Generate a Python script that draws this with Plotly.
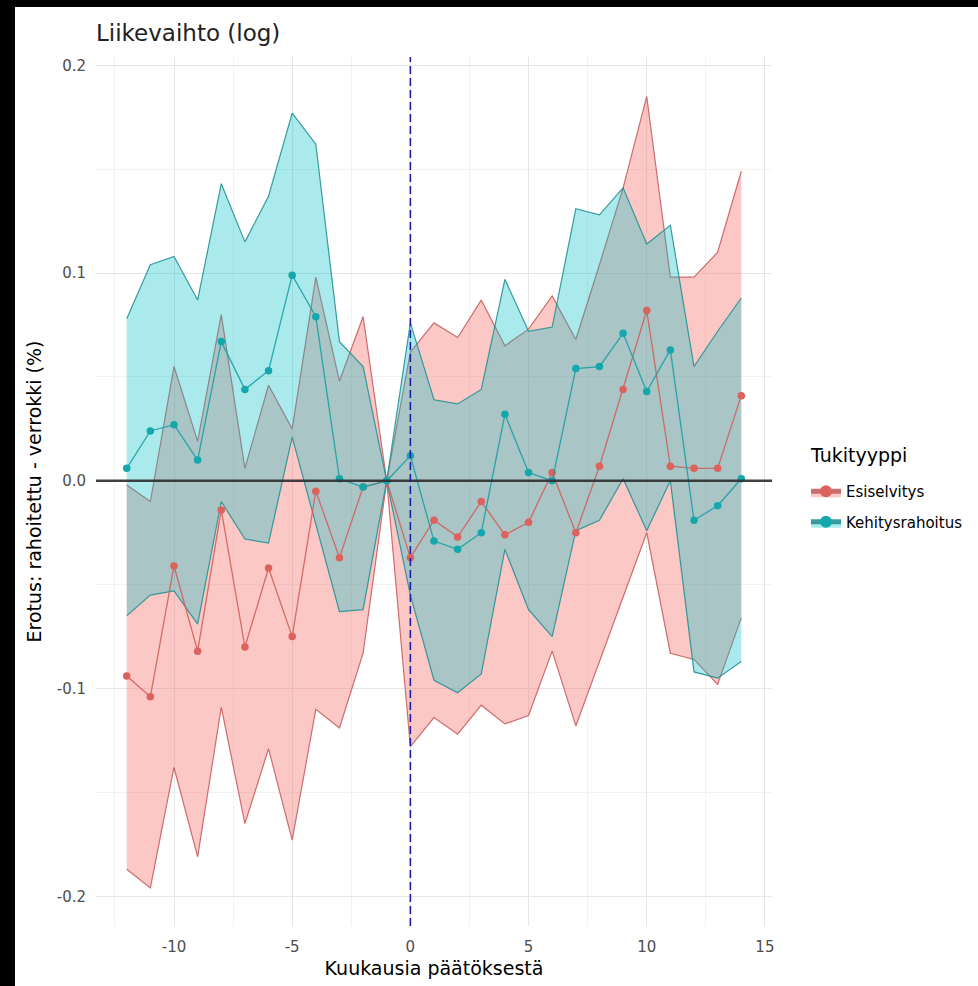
import plotly.graph_objects as go

# ---------------- data ----------------
months = list(range(-12, 15))

esi_est = [-0.094, -0.104, -0.041, -0.082, -0.014, -0.080, -0.042, -0.075, -0.005, -0.037, -0.003, 0.0,
           -0.037, -0.019, -0.027, -0.010, -0.026, -0.020, 0.004, -0.025, 0.007, 0.044, 0.082, 0.007,
           0.006, 0.006, 0.041]
esi_hi = [-0.002, -0.010, 0.055, 0.019, 0.080, 0.006, 0.046, 0.025, 0.098, 0.048, 0.079, 0.0,
          0.062, 0.076, 0.069, 0.087, 0.065, 0.073, 0.089, 0.068, 0.104, 0.141, 0.185, 0.098,
          0.098, 0.110, 0.149]
esi_lo = [-0.187, -0.196, -0.138, -0.181, -0.109, -0.165, -0.129, -0.173, -0.110, -0.119, -0.083, 0.0,
          -0.128, -0.114, -0.122, -0.108, -0.117, -0.113, -0.082, -0.118, -0.087, -0.056, -0.025, -0.083,
          -0.086, -0.098, -0.066]

keh_est = [0.006, 0.024, 0.027, 0.010, 0.067, 0.044, 0.053, 0.099, 0.079, 0.001, -0.003, 0.0,
           0.012, -0.029, -0.033, -0.025, 0.032, 0.004, 0.000, 0.054, 0.055, 0.071, 0.043, 0.063,
           -0.019, -0.012, 0.001]
keh_hi = [0.078, 0.104, 0.108, 0.087, 0.143, 0.115, 0.137, 0.177, 0.162, 0.067, 0.055, 0.0,
          0.076, 0.039, 0.037, 0.044, 0.097, 0.072, 0.074, 0.131, 0.128, 0.141, 0.114, 0.123,
          0.055, 0.072, 0.088]
keh_lo = [-0.065, -0.055, -0.053, -0.069, -0.010, -0.028, -0.030, 0.021, -0.021, -0.063, -0.062, 0.0,
          -0.055, -0.096, -0.102, -0.093, -0.033, -0.062, -0.075, -0.024, -0.019, 0.001, -0.024, 0.0,
          -0.092, -0.095, -0.087]

series_names = ["Esiselvitys", "Kehitysrahoitus"]
x_tickvals = [-10, -5, 0, 5, 10, 15]
x_ticktext = ["-10", "-5", "0", "5", "10", "15"]
y_tickvals = [-0.2, -0.1, 0.0, 0.1, 0.2]
y_ticktext = ["-0.2", "-0.1", "0.0", "0.1", "0.2"]

# ---------------- style ----------------
FONT = "DejaVu Sans, Verdana, sans-serif"
styles = {
    "Esiselvitys": dict(fill="rgba(248,118,109,0.40)", edge="rgba(200,95,95,0.9)",
                        line="rgba(210,95,92,0.9)", marker="rgb(220,98,94)"),
    "Kehitysrahoitus": dict(fill="rgba(0,191,196,0.33)", edge="rgba(35,145,150,0.9)",
                            line="rgba(25,160,165,0.9)", marker="rgb(20,168,172)"),
}

# page geometry: figure is placed 15px from the left and 7px from the top of
# the 978x986 window, the strips around it are black as in the reference
W, H = 978 - 15, 986 - 7
L, R, T, B = 81, 206, 50, 60
PW, PH = W - L - R, H - T - B

fig = go.Figure()

data = {
    "Esiselvitys": (esi_est, esi_lo, esi_hi),
    "Kehitysrahoitus": (keh_est, keh_lo, keh_hi),
}

# ribbons (red first, teal on top)
for name in series_names:
    est, lo, hi = data[name]
    s = styles[name]
    fig.add_trace(go.Scatter(x=months, y=lo, mode="lines", line=dict(color=s["edge"], width=1.2),
                             showlegend=False, hoverinfo="skip"))
    fig.add_trace(go.Scatter(x=months, y=hi, mode="lines", line=dict(color=s["edge"], width=1.2),
                             fill="tonexty", fillcolor=s["fill"], showlegend=False, hoverinfo="skip"))

# estimate lines + points
for name in series_names:
    est, lo, hi = data[name]
    s = styles[name]
    fig.add_trace(go.Scatter(x=months, y=est, mode="lines+markers",
                             line=dict(color=s["line"], width=1.3),
                             marker=dict(color=s["marker"], size=7.5),
                             showlegend=False, name=name))

# legend-only entries
for name in series_names:
    s = styles[name]
    fig.add_trace(go.Scatter(x=[None], y=[None], mode="lines+markers", name=name, legendgroup=name,
                             fill="toself", fillcolor=s["fill"],
                             line=dict(color=s["edge"], width=1.3),
                             marker=dict(color=s["marker"], size=7.5)))

# reference lines
fig.add_shape(type="line", xref="paper", x0=0, x1=1, yref="y", y0=0, y1=0,
              line=dict(color="rgba(45,45,45,0.9)", width=2.6), layer="above")
fig.add_shape(type="line", xref="x", x0=0, x1=0, yref="paper", y0=0, y1=1,
              line=dict(color="rgb(30,30,165)", width=1.6, dash="8px,4px"), layer="above")

# legend title as annotation (for ggplot-like spacing)
fig.add_annotation(text="Tukityyppi", xref="paper", yref="paper",
                   x=(808 - 15 - L) / PW, y=(H - B - (455 - 7)) / PH,
                   xanchor="left", yanchor="middle", showarrow=False,
                   font=dict(family=FONT, size=19, color="black"))

axis_common = dict(showline=False, zeroline=False, gridcolor="#E6E6E6", gridwidth=1,
                   ticks="outside", tickcolor="rgba(0,0,0,0)",
                   tickfont=dict(family=FONT, size=15, color="#4D4D4D"))

fig.update_xaxes(range=[-13.3, 15.3], tickvals=x_tickvals, ticktext=x_ticktext, ticklen=7,
                 minor=dict(tickvals=[-12.5, -7.5, -2.5, 2.5, 7.5, 12.5], showgrid=True,
                            gridcolor="#F2F2F2", gridwidth=0.8, ticklen=0),
                 title=dict(text="Kuukausia päätöksestä", font=dict(family=FONT, size=19, color="black"),
                            standoff=6),
                 **axis_common)
fig.update_yaxes(range=[-0.2143, 0.204], tickvals=y_tickvals, ticktext=y_ticktext, ticklen=6,
                 minor=dict(tickvals=[-0.15, -0.05, 0.05, 0.15], showgrid=True,
                            gridcolor="#F2F2F2", gridwidth=0.8, ticklen=0),
                 title=dict(text="Erotus: rahoitettu - verrokki (%)",
                            font=dict(family=FONT, size=19, color="black"), standoff=10),
                 **axis_common)

fig.update_layout(
    width=W, height=H,
    margin=dict(l=L, r=R, t=T, b=B, autoexpand=False),
    paper_bgcolor="white", plot_bgcolor="white",
    font=dict(family=FONT, color="black"),
    title=dict(text="Liikevaihto (log)", x=0, xref="paper", xanchor="left",
               y=1 - 26 / H, yref="container", yanchor="middle",
               font=dict(family=FONT, size=23, color="#222222")),
    legend=dict(font=dict(family=FONT, size=15, color="black"),
                x=(806 - 15 - L) / PW, xanchor="left",
                y=(H - B - (475 - 7)) / PH, yanchor="top", traceorder="grouped",
                bgcolor="rgba(0,0,0,0)", itemsizing="constant", tracegroupgap=8),
    showlegend=True,
)

page_js = (
    "var b=document.body;b.style.margin='0';b.style.padding='7px 0 0 15px';"
    "b.style.background='black';b.style.overflow='hidden';"
    "document.documentElement.style.background='black';"
)

fig.write_html("out.html", post_script=page_js)
